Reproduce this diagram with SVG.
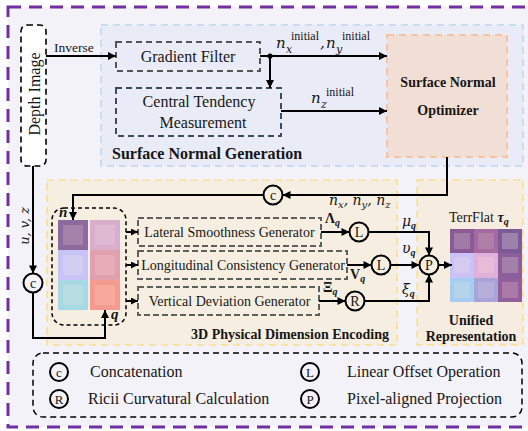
<svg xmlns="http://www.w3.org/2000/svg" width="528" height="431" viewBox="0 0 528 431">
  <defs>
    <style>
      .serif{font-family:"Liberation Serif","Times New Roman",serif;fill:#161616}
      .bold{font-weight:bold}
      .math{font-family:"DejaVu Serif","Liberation Serif",serif;font-style:italic;fill:#161616}
      .bmath{font-family:"Liberation Serif","Times New Roman",serif;font-style:italic;font-weight:bold;fill:#161616}
      .wire{fill:none;stroke:#000;stroke-width:2}
      .op{fill:none;stroke:#000;stroke-width:2}
      .gen{fill:none;stroke:#5f5f5f;stroke-width:2;stroke-dasharray:6 3}
    </style>
    <marker id="arr" viewBox="0 0 10 10" refX="10" refY="5" markerWidth="10" markerHeight="8" markerUnits="userSpaceOnUse" orient="auto">
      <path d="M0,0 L10,5 L0,10 z" fill="#000"/>
    </marker>
    <marker id="arrs" viewBox="0 0 10 10" refX="10" refY="5" markerWidth="8" markerHeight="7" markerUnits="userSpaceOnUse" orient="auto">
      <path d="M0,0 L10,5 L0,10 z" fill="#000"/>
    </marker>
  </defs>

  <!-- page -->
  <rect x="0" y="0" width="528" height="431" fill="#ffffff"/>
  <rect x="8" y="7" width="530" height="420" fill="#f4f2f9" stroke="#7030a0" stroke-width="3" stroke-dasharray="13 8"/>

  <!-- regions -->
  <g id="surface-normal-generation">
    <rect x="101" y="25" width="422" height="141" fill="#e9ecf6" stroke="#bcd8ee" stroke-width="1.6" stroke-dasharray="7 5"/>
    <text class="serif bold" x="112" y="159" font-size="16">Surface Normal Generation</text>
  </g>
  <g id="physical-encoding">
    <rect x="47" y="180" width="350" height="165" fill="#f6efe1" stroke="#fbdf8d" stroke-width="1.6" stroke-dasharray="7 5"/>
    <text class="serif bold" x="389" y="339" font-size="14" text-anchor="end">3D Physical Dimension Encoding</text>
  </g>
  <g id="unified-representation">
    <rect x="417" y="180" width="106" height="165" fill="#f6ecdf" stroke="#fbdf8d" stroke-width="1.6" stroke-dasharray="7 5"/>
    <text class="serif bold" x="471" y="325" font-size="14" text-anchor="middle">Unified</text>
    <text class="serif bold" x="471" y="341" font-size="14" text-anchor="middle">Representation</text>
  </g>

  <!-- nodes -->
  <g id="depth-image">
    <rect x="21" y="25" width="25" height="141" rx="6" fill="#ffffff" stroke="#000" stroke-width="1.6" stroke-dasharray="6 4"/>
    <text class="serif" font-size="16" text-anchor="middle" transform="translate(40,94) rotate(-90)">Depth Image</text>
  </g>
  <g id="gradient-filter">
    <rect x="116" y="42" width="144" height="29" fill="none" stroke="#555" stroke-width="2" stroke-dasharray="6 4"/>
    <text class="serif" x="188" y="62" font-size="16" text-anchor="middle">Gradient Filter</text>
  </g>
  <g id="central-tendency">
    <rect x="116" y="88" width="165" height="48" fill="none" stroke="#3f4b5c" stroke-width="2" stroke-dasharray="6 4"/>
    <text class="serif" x="199" y="107" font-size="16" text-anchor="middle">Central Tendency</text>
    <text class="serif" x="203" y="128" font-size="16" text-anchor="middle">Measurement</text>
  </g>
  <g id="normal-optimizer">
    <rect x="387" y="35" width="120" height="122" fill="#f1ded4" stroke="#f6c4a1" stroke-width="2" stroke-dasharray="7 5"/>
    <text class="serif bold" x="448" y="87" font-size="14" text-anchor="middle">Surface Normal</text>
    <text class="serif bold" x="448" y="115" font-size="14" text-anchor="middle">Optimizer</text>
  </g>

  <g id="feature-tiles">
    <rect x="52" y="208" width="74" height="117" rx="12" fill="none" stroke="#000" stroke-width="1.5" stroke-dasharray="4 3"/>
    <rect x="58" y="220" width="30" height="30" fill="#8d6a9d"/><rect x="63" y="225" width="20" height="20" fill="#a382aa"/>
    <rect x="90" y="220" width="30" height="30" fill="#d9aecb"/><rect x="95" y="225" width="20" height="20" fill="#dfb8d2"/>
    <rect x="58" y="250" width="30" height="30" fill="#c6c3f6"/><rect x="63" y="255" width="20" height="20" fill="#d1cef2"/>
    <rect x="90" y="250" width="30" height="30" fill="#e0a0ae"/><rect x="95" y="255" width="20" height="20" fill="#e6adb9"/>
    <rect x="58" y="280" width="30" height="30" fill="#a7d9e5"/><rect x="63" y="285" width="20" height="20" fill="#b7dde3"/>
    <rect x="90" y="280" width="30" height="30" fill="#f49a8f"/><rect x="95" y="285" width="20" height="20" fill="#f7a99c"/>
    <text class="bmath" x="59" y="217" font-size="15">n</text>
    <text class="bmath" x="111" y="319" font-size="15">q</text>
  </g>

  <g id="lateral-generator">
    <rect class="gen" x="138" y="218" width="183" height="28"/>
    <text class="serif" x="229.5" y="237" font-size="14" text-anchor="middle">Lateral Smoothness Generator</text>
  </g>
  <g id="longitudinal-generator">
    <rect class="gen" x="138" y="251" width="209" height="28"/>
    <text class="serif" x="243" y="270" font-size="14" text-anchor="middle">Longitudinal Consistency Generator</text>
  </g>
  <g id="vertical-generator">
    <rect class="gen" x="138" y="287" width="181" height="28"/>
    <text class="serif" x="229.5" y="306" font-size="14" text-anchor="middle">Vertical Deviation Generator</text>
  </g>

  <g id="terrflat">
    <rect x="450" y="229" width="24" height="24" fill="#8a5a96"/><rect x="454" y="233" width="16" height="16" fill="#9f7ba6"/>
    <rect x="474" y="229" width="24" height="24" fill="#a56a9f"/><rect x="478" y="233" width="16" height="16" fill="#b07fa8"/>
    <rect x="498" y="229" width="24" height="24" fill="#7d5b98"/><rect x="502" y="233" width="16" height="16" fill="#9a82ab"/>
    <rect x="450" y="253" width="24" height="25" fill="#c8c2f6"/><rect x="454" y="257" width="16" height="16" fill="#d6caf2"/>
    <rect x="474" y="253" width="24" height="25" fill="#dfb0da"/><rect x="478" y="257" width="16" height="16" fill="#e7bcd9"/>
    <rect x="498" y="253" width="24" height="25" fill="#8b5f9b"/><rect x="502" y="257" width="16" height="16" fill="#a480a8"/>
    <rect x="450" y="278" width="24" height="24" fill="#a5cdf2"/><rect x="454" y="282" width="16" height="16" fill="#b5d4ea"/>
    <rect x="474" y="278" width="24" height="24" fill="#a8a4d8"/><rect x="478" y="282" width="16" height="16" fill="#b7aed9"/>
    <rect x="498" y="278" width="24" height="24" fill="#915f9c"/><rect x="502" y="282" width="16" height="16" fill="#ac7aa9"/>
    <text class="serif" x="449" y="222" font-size="14">TerrFlat <tspan class="bmath" font-family="DejaVu Serif, serif" font-size="14">τ</tspan><tspan class="bmath" font-size="10" dy="3">q</tspan></text>
  </g>

  <!-- operators -->
  <g id="concat-main">
    <circle class="op" cx="273" cy="195" r="9.5"/>
    <text class="serif" x="273" y="200" font-size="14" text-anchor="middle">c</text>
  </g>
  <g id="concat-left">
    <circle class="op" cx="33" cy="283" r="9.5"/>
    <text class="serif" x="33" y="288" font-size="14" text-anchor="middle">c</text>
  </g>
  <g id="linear-1">
    <circle class="op" cx="359" cy="232" r="9.5"/>
    <text class="serif" x="359" y="237" font-size="14" text-anchor="middle">L</text>
  </g>
  <g id="linear-2">
    <circle class="op" cx="381" cy="265" r="9.5"/>
    <text class="serif" x="381" y="270" font-size="14" text-anchor="middle">L</text>
  </g>
  <g id="ricci">
    <circle class="op" cx="355" cy="301" r="9.5"/>
    <text class="serif" x="355" y="306" font-size="14" text-anchor="middle">R</text>
  </g>
  <g id="projection">
    <circle class="op" cx="429" cy="265" r="9.5"/>
    <text class="serif" x="429" y="270" font-size="14" text-anchor="middle">P</text>
  </g>

  <!-- connectors -->
  <g id="connectors">
    <line class="wire" x1="46" y1="56" x2="116" y2="56" marker-end="url(#arr)"/>
    <line class="wire" x1="260" y1="56" x2="387" y2="56" marker-end="url(#arr)"/>
    <circle cx="270" cy="56" r="2.6" fill="#000"/>
    <line class="wire" x1="270" y1="56" x2="270" y2="88" marker-end="url(#arr)"/>
    <line class="wire" x1="281" y1="111" x2="387" y2="111" marker-end="url(#arr)"/>
    <polyline class="wire" points="447,157 447,195 282.5,195" marker-end="url(#arr)"/>
    <polyline class="wire" points="263.5,195 73,195 73,220" marker-end="url(#arr)"/>
    <line class="wire" x1="33" y1="166" x2="33" y2="273.5" marker-end="url(#arr)"/>
    <polyline class="wire" points="33,292.5 33,338 105,338 105,310" marker-end="url(#arr)"/>
    <line class="wire" x1="126" y1="232" x2="138" y2="232" marker-end="url(#arrs)"/>
    <line class="wire" x1="126" y1="265" x2="138" y2="265" marker-end="url(#arrs)"/>
    <line class="wire" x1="126" y1="301" x2="138" y2="301" marker-end="url(#arrs)"/>
    <line class="wire" x1="321" y1="232" x2="349.5" y2="232" marker-end="url(#arr)"/>
    <line class="wire" x1="347" y1="265" x2="371.5" y2="265" marker-end="url(#arr)"/>
    <line class="wire" x1="319" y1="301" x2="345.5" y2="301" marker-end="url(#arr)"/>
    <polyline class="wire" points="368.5,232 429,232 429,255.5" marker-end="url(#arr)"/>
    <line class="wire" x1="390.5" y1="265" x2="419.5" y2="265" marker-end="url(#arr)"/>
    <polyline class="wire" points="364.5,301 429,301 429,274.5" marker-end="url(#arr)"/>
    <line class="wire" x1="438.5" y1="265" x2="452" y2="265" marker-end="url(#arr)"/>
  </g>

  <!-- connector labels -->
  <g id="labels">
    <text class="serif" x="54" y="52" font-size="13.5">Inverse</text>
    <text class="math" x="276" y="48" font-size="15">n</text>
    <text class="math" x="286" y="53" font-size="11">x</text>
    <text class="serif" x="291" y="40" font-size="12">initial</text>
    <text class="math" x="320" y="48" font-size="15">,</text>
    <text class="math" x="326" y="48" font-size="15">n</text>
    <text class="math" x="336" y="53" font-size="11">y</text>
    <text class="serif" x="342" y="40" font-size="12">initial</text>
    <text class="math" x="311" y="103" font-size="15">n</text>
    <text class="math" x="321" y="108" font-size="11">z</text>
    <text class="serif" x="326" y="96" font-size="12">initial</text>
    <text class="math" x="329" y="205" font-size="14">n<tspan font-size="10" dy="3">x</tspan><tspan dy="-3">, n</tspan><tspan font-size="10" dy="3">y</tspan><tspan dy="-3">, n</tspan><tspan font-size="10" dy="3">z</tspan></text>
    <text class="math" transform="translate(29,226) rotate(-90)" font-size="13" text-anchor="middle">u, v, z</text>
    <text class="serif bold" x="325" y="223" font-size="14">Λ<tspan class="bmath" font-size="10" dy="3">q</tspan></text>
    <text class="serif bold" x="350" y="279" font-size="14">V<tspan class="bmath" font-size="10" dy="3">q</tspan></text>
    <text class="serif bold" x="323" y="292" font-size="14">Ξ<tspan class="bmath" font-size="10" dy="3">q</tspan></text>
    <text class="math" x="402" y="226" font-size="14">μ<tspan class="bmath" font-size="10" dy="3">q</tspan></text>
    <text class="math" x="402" y="253" font-size="14">υ<tspan class="bmath" font-size="10" dy="3">q</tspan></text>
    <text class="math" x="402" y="294" font-size="14">ξ<tspan class="bmath" font-size="10" dy="3">q</tspan></text>
  </g>

  <!-- legend -->
  <g id="legend">
    <rect x="33" y="353" width="489" height="64" rx="10" fill="none" stroke="#000" stroke-width="1.5" stroke-dasharray="6 4"/>
    <circle class="op" cx="59" cy="372" r="9"/>
    <text class="serif" x="59" y="377" font-size="13" text-anchor="middle">c</text>
    <text class="serif" x="90" y="377" font-size="16">Concatenation</text>
    <circle class="op" cx="59" cy="399" r="9"/>
    <text class="serif" x="59" y="404" font-size="13" text-anchor="middle">R</text>
    <text class="serif" x="88" y="404" font-size="16">Ricii Curvatural Calculation</text>
    <circle class="op" cx="310" cy="372" r="9"/>
    <text class="serif" x="310" y="377" font-size="13" text-anchor="middle">L</text>
    <text class="serif" x="347" y="377" font-size="16">Linear Offset Operation</text>
    <circle class="op" cx="310" cy="399" r="9"/>
    <text class="serif" x="310" y="404" font-size="13" text-anchor="middle">P</text>
    <text class="serif" x="347" y="404" font-size="16">Pixel-aligned Projection</text>
  </g>
</svg>
